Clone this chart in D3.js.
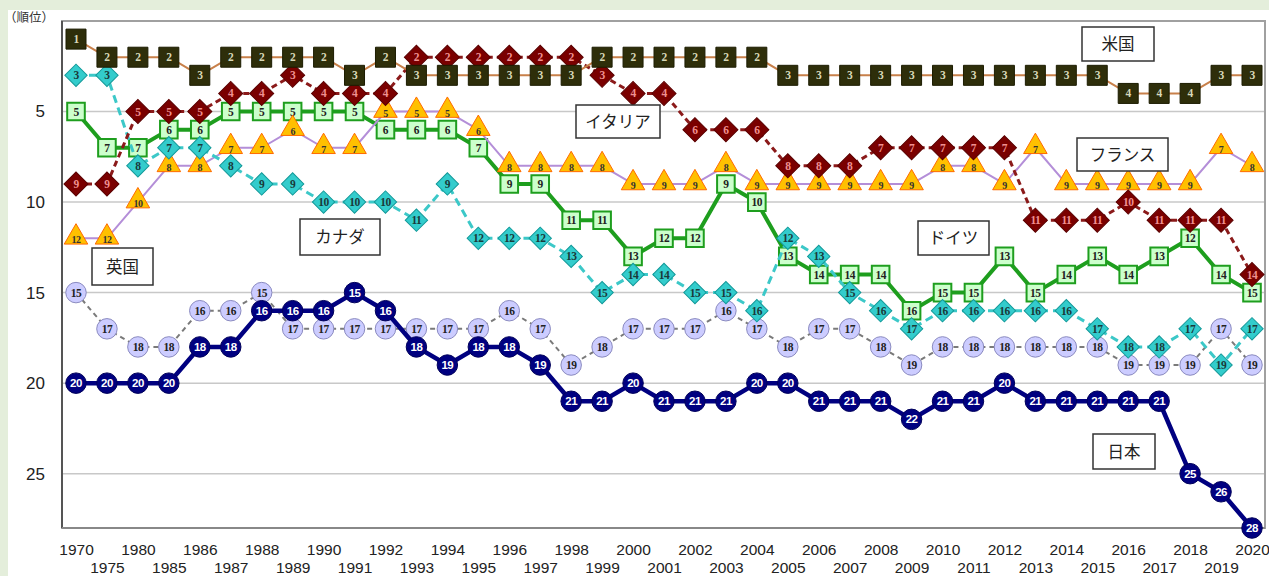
<!DOCTYPE html>
<html><head><meta charset="utf-8">
<script src="https://cdn.jsdelivr.net/npm/d3@7"></script>
<style>
html,body{margin:0;padding:0;background:#e4eedb;}
svg{display:block;}
</style></head>
<body>
<svg id="chart" width="1269" height="576"></svg>
<script>
// ---- data ----
const years = ["1970","1975","1980","1985","1986","1987","1988","1989","1990","1991","1992","1993","1994","1995","1996","1997","1998","1999","2000","2001","2002","2003","2004","2005","2006","2007","2008","2009","2010","2011","2012","2013","2014","2015","2016","2017","2018","2019","2020"];
const seriesNames = ["英国","日本","ドイツ","フランス","カナダ","イタリア","米国"];
const usa     = [1,2,2,2,3,2,2,2,2,3,2,3,3,3,3,3,3,2,2,2,2,2,2,3,3,3,3,3,3,3,3,3,3,3,4,4,4,3,3];
const italy   = [9,9,5,5,5,4,4,3,4,4,4,2,2,2,2,2,2,3,4,4,6,6,6,8,8,8,7,7,7,7,7,11,11,11,10,11,11,11,14];
const france  = [12,12,10,8,8,7,7,6,7,7,5,5,5,6,8,8,8,8,9,9,9,8,9,9,9,9,9,9,8,8,9,7,9,9,9,9,9,7,8];
const germany = [5,7,7,6,6,5,5,5,5,5,6,6,6,7,9,9,11,11,13,12,12,9,10,13,14,14,14,16,15,15,13,15,14,13,14,13,12,14,15];
const canada  = [3,3,8,7,7,8,9,9,10,10,10,11,9,12,12,12,13,15,14,14,15,15,16,12,13,15,16,17,16,16,16,16,16,17,18,18,17,19,17];
const uk      = [15,17,18,18,16,16,15,17,17,17,17,17,17,17,16,17,19,18,17,17,17,16,17,18,17,17,18,19,18,18,18,18,18,18,19,19,19,17,19];
const japan   = [20,20,20,20,18,18,16,16,16,15,16,18,19,18,18,19,21,21,20,21,21,21,20,20,21,21,21,22,21,21,20,21,21,21,21,21,25,26,28];
const yTicks = [5,10,15,20,25];
const yLabel = "（順位）";

// ---- styles ----
const styles = {
  "英国":    {values: uk,      shape:"circle",  fill:"#ccccff", stroke:"#8a8ac0", line:"#7a7a7a", lw:2,   dash:"5,4", text:"#222", font:"Liberation Serif"},
  "日本":    {values: japan,   shape:"circle",  fill:"#000080", stroke:"#00005a", line:"#000080", lw:4.5, dash:null,  text:"#fff", font:"Liberation Sans"},
  "ドイツ":  {values: germany, shape:"square",  fill:"#ccffcc", stroke:"#1e9e1e", line:"#1e9e1e", lw:4,   dash:null,  text:"#222", font:"Liberation Serif"},
  "フランス":{values: france,  shape:"triangle",fill:"#ffc000", stroke:"#ff6a00", line:"#b48ed8", lw:2,   dash:null,  text:"#333", font:"Liberation Serif"},
  "カナダ":  {values: canada,  shape:"diamond", fill:"#33cccc", stroke:"#139999", line:"#3cc8c8", lw:3,   dash:"8,5", text:"#1a3a3a", font:"Liberation Serif"},
  "イタリア":{values: italy,   shape:"diamond2",fill:"#7a0000", stroke:"#5a0000", line:"#8b1a1a", lw:3,   dash:"6,4", text:"#f09090", font:"Liberation Serif"},
  "米国":    {values: usa,     shape:"usq",     fill:"#2e2e0a", stroke:"#1c1c00", line:"#c8804a", lw:2,   dash:null,  text:"#d8d8b8", font:"Liberation Serif"}
};

const svg = d3.select("#chart");
// white panel
svg.append("rect").attr("x",8).attr("y",10).attr("width",1261).attr("height",566).attr("fill","#fff");

const plot = {left:62, top:21, right:1265, bottom:528};
const x = d3.scalePoint().domain(years).range([76, 1252]);
const y = d3.scaleLinear().domain([0,28]).range([plot.top, plot.bottom]);

// gridlines
svg.append("g").selectAll("line").data(yTicks).join("line")
  .attr("x1",plot.left).attr("x2",plot.right)
  .attr("y1",d=>y(d)).attr("y2",d=>y(d))
  .attr("stroke","#c8c8c8").attr("stroke-width",1.5);

// frame
svg.append("rect").attr("x",plot.left).attr("y",plot.top)
  .attr("width",plot.right-plot.left).attr("height",plot.bottom-plot.top)
  .attr("fill","none").attr("stroke","#a0a0a0").attr("stroke-width",2);
svg.append("line").attr("x1",plot.left).attr("x2",plot.left).attr("y1",plot.top).attr("y2",plot.bottom)
  .attr("stroke","#555").attr("stroke-width",2);
svg.append("line").attr("x1",plot.left).attr("x2",plot.right).attr("y1",plot.bottom).attr("y2",plot.bottom)
  .attr("stroke","#888").attr("stroke-width",2);

// y axis
const yAxis = d3.axisLeft(y).tickValues(yTicks).tickSize(0).tickPadding(17);
const gy = svg.append("g").attr("transform",`translate(${plot.left},0)`).call(yAxis);
gy.select(".domain").remove();
gy.selectAll("text").attr("font-family","Liberation Sans, Arial, sans-serif").attr("font-size",17).attr("fill","#222");

// x axis
const xAxis = d3.axisBottom(x).tickSize(0).tickPadding(0);
const gx = svg.append("g").attr("transform",`translate(0,${plot.bottom})`).call(xAxis);
gx.select(".domain").remove();
gx.selectAll("text")
  .attr("font-family","Liberation Sans, Arial, sans-serif").attr("font-size",15.5).attr("fill","#222")
  .attr("dy",null)
  .attr("y",(d,i)=> i%2===0 ? 27 : 45);

// y label
svg.append("text").attr("x",4).attr("y",22).text(yLabel)
  .attr("font-family","Noto Sans CJK JP").attr("font-size",12.5).attr("fill","#333");

// series
function markerPath(shape){
  switch(shape){
    case "circle": return d3.symbol(d3.symbolCircle, 330)();
    case "square": return d3.symbol(d3.symbolSquare, 310)();
    case "usq": return d3.symbol(d3.symbolSquare, 400)();
    case "triangle": return d3.symbol(d3.symbolTriangle, 240)();
    case "diamond": return d3.symbol(d3.symbolSquare, 250)();
    case "diamond2": return d3.symbol(d3.symbolSquare, 290)();
  }
}
const line = d3.line().x((d,i)=>x(years[i])).y(d=>y(d));

seriesNames.forEach(name=>{
  const s = styles[name];
  const g = svg.append("g");
  g.append("path").datum(s.values).attr("d",line)
    .attr("fill","none").attr("stroke",s.line).attr("stroke-width",s.lw)
    .attr("stroke-dasharray",s.dash).attr("stroke-linejoin","round");
  const m = g.selectAll("g.m").data(s.values).join("g")
    .attr("transform",(d,i)=>`translate(${x(years[i])},${y(d)})`);
  m.append("path").attr("d",markerPath(s.shape))
    .attr("transform", (s.shape==="diamond"||s.shape==="diamond2") ? "rotate(45)" : (s.shape==="triangle" ? "translate(0,-1)" : null))
    .attr("fill",s.fill).attr("stroke",s.stroke).attr("stroke-width", s.shape==="square"?2:1);
  m.append("text").text(d=>d)
    .attr("text-anchor","middle")
    .attr("y", s.shape==="triangle" ? 5 : 4)
    .attr("font-family",s.font).attr("font-weight","bold")
    .attr("font-size", s.shape==="triangle" ? 10 : 11.5)
    .attr("letter-spacing", -0.5)
    .attr("fill",s.text);
});

// annotation boxes
const annotations = [
  {text:"米国",    x:1082, y:27,  w:72, h:34},
  {text:"イタリア", x:576,  y:105, w:84, h:33},
  {text:"フランス", x:1077, y:138, w:91, h:33},
  {text:"カナダ",   x:300,  y:219, w:80, h:36},
  {text:"ドイツ",   x:918,  y:221, w:71, h:34},
  {text:"英国",    x:92,   y:248, w:61, h:37},
  {text:"日本",    x:1093, y:434, w:62, h:35}
];
const ag = svg.append("g").selectAll("g").data(annotations).join("g");
ag.append("rect").attr("x",d=>d.x).attr("y",d=>d.y).attr("width",d=>d.w).attr("height",d=>d.h)
  .attr("fill","#fff").attr("stroke","#333").attr("stroke-width",1.5);
ag.append("text").attr("x",d=>d.x+d.w/2).attr("y",d=>d.y+d.h/2+6).attr("text-anchor","middle")
  .attr("font-family","Noto Sans CJK JP").attr("font-size",16.5).attr("fill","#222").text(d=>d.text);
</script>
</body></html>
